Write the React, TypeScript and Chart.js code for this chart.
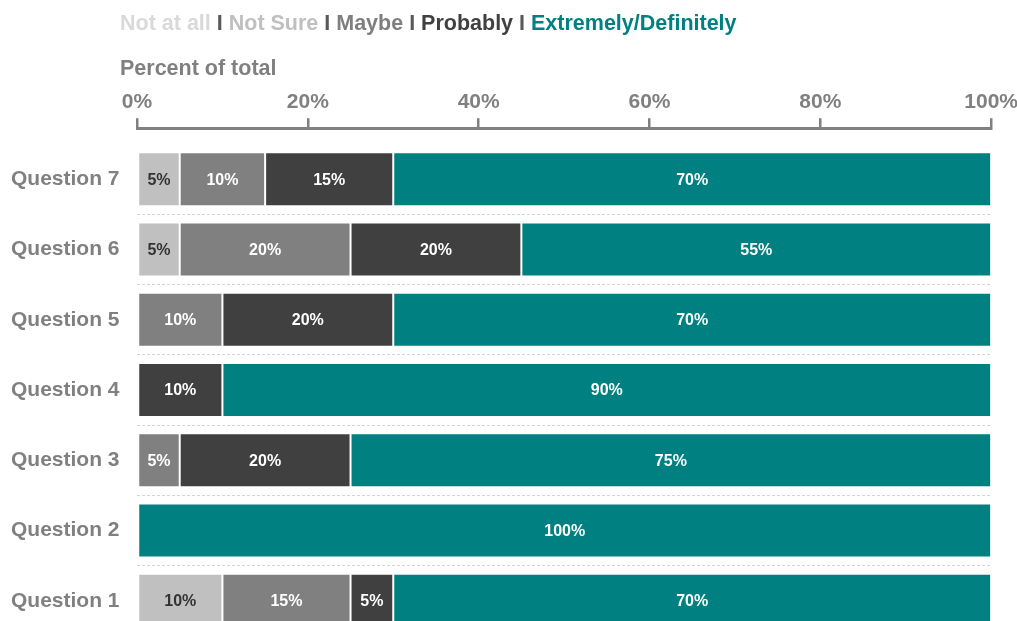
import React, { useEffect, useRef } from "react";
import { Chart, registerables } from "chart.js";

Chart.register(...registerables);

const categories = ["Question 7", "Question 6", "Question 5", "Question 4", "Question 3", "Question 2", "Question 1"];
const seriesNames = ["Not at all", "Not Sure", "Maybe", "Probably", "Extremely/Definitely"];
const notAtAll = [0, 0, 0, 0, 0, 0, 0];
const notSure = [5, 5, 0, 0, 0, 0, 10];
const maybe = [10, 20, 10, 0, 5, 0, 15];
const probably = [15, 20, 20, 10, 20, 0, 5];
const extremely = [70, 55, 70, 90, 75, 100, 70];
const xTicks = [0, 20, 40, 60, 80, 100];

const barColors = ["#d9d9d9", "#c0c0c0", "#808080", "#404040", "#008080"];
const legendColors = ["#d9d9d9", "#bfbfbf", "#7f7f7f", "#404040", "#008080"];
const labelColors = ["#333333", "#333333", "#ffffff", "#ffffff", "#ffffff"];
const FONT = "'Liberation Sans', Arial, sans-serif";

const barLabels = {
  id: "barLabels",
  afterDatasetsDraw(chart: any) {
    const ctx = chart.ctx;
    ctx.save();
    ctx.font = `bold 16px ${FONT}`;
    ctx.textAlign = "center";
    ctx.textBaseline = "middle";
    chart.data.datasets.forEach((ds: any, i: number) => {
      const meta = chart.getDatasetMeta(i);
      meta.data.forEach((el: any, j: number) => {
        const v = ds.data[j];
        if (!v) return;
        const p = el.getProps(["x", "base", "y"], true);
        ctx.fillStyle = labelColors[i];
        ctx.fillText(v + "%", (p.x + p.base) / 2, p.y + 1);
      });
    });
    ctx.restore();
  },
};

export default function App() {
  const ref = useRef<HTMLCanvasElement>(null);
  useEffect(() => {
    if (!ref.current) return;
    const series = [notAtAll, notSure, maybe, probably, extremely];
    const chart = new Chart(ref.current, {
      type: "bar",
      data: {
        labels: categories,
        datasets: series.map((d, i) => ({
          label: seriesNames[i],
          data: d,
          backgroundColor: barColors[i],
          borderColor: "#ffffff",
          borderWidth: 1,
          borderSkipped: false,
          xAxisID: "x",
          yAxisID: "y",
          categoryPercentage: 1,
          barPercentage: 0.77,
        })),
      },
      options: {
        indexAxis: "y",
        animation: false,
        responsive: false,
        layout: { padding: { top: 87, left: 0, right: 0, bottom: 5 } },
        plugins: {
          legend: { display: false },
          title: { display: false },
          tooltip: { enabled: false },
        },
        scales: {
          x: {
            type: "linear",
            position: "top",
            stacked: true,
            min: 0,
            max: 100,
            weight: 1,
            afterBuildTicks: (s: any) => {
              s.ticks = xTicks.map((v) => ({ value: v }));
            },
            ticks: {
              callback: (v: any) => v + "%",
              color: "#808080",
              font: { family: FONT, size: 21, weight: "bold" },
              padding: 3,
              maxRotation: 0,
            },
            grid: {
              display: true,
              drawOnChartArea: false,
              drawTicks: true,
              tickLength: 10,
              color: "#808080",
              lineWidth: 2.5,
            },
            border: { display: true, color: "#808080", width: 3 },
          },
          xgap: {
            type: "linear",
            axis: "x",
            position: "top",
            display: true,
            weight: 0,
            grid: { display: false },
            ticks: { display: false },
            border: { display: false },
            afterFit: (s: any) => {
              s.height = 16;
            },
          },
          y: {
            type: "category",
            stacked: true,
            afterFit: (s: any) => {
              s.width = 137;
            },
            ticks: {
              color: "#808080",
              font: { family: FONT, size: 21, weight: "bold" },
              padding: 17.5,
            },
            grid: {
              display: true,
              drawTicks: false,
              offset: true,
              lineWidth: 1,
              color: (c: any) => (c.index === 0 ? "rgba(0,0,0,0)" : "#d4d4d4"),
            },
            border: { display: false, dash: [3, 2] },
          },
        } as any,
      },
      plugins: [barLabels],
    } as any);
    return () => chart.destroy();
  }, []);

  const legendItems: React.ReactNode[] = [];
  seriesNames.forEach((n, i) => {
    if (i > 0)
      legendItems.push(
        <span key={"s" + i} style={{ color: "#595959" }}>
          {" I "}
        </span>
      );
    legendItems.push(
      <span key={"n" + i} style={{ color: legendColors[i] }}>
        {n}
      </span>
    );
  });

  return (
    <div
      style={{
        position: "fixed",
        left: 0,
        top: 0,
        width: 1017,
        height: 621,
        overflow: "hidden",
        background: "#ffffff",
      }}
    >
      <canvas ref={ref} width={1021} height={666} style={{ display: "block", position: "absolute", left: 0, top: 0 }} />
      <div
        style={{
          position: "absolute",
          left: 120,
          top: 13,
          fontFamily: FONT,
          fontWeight: "bold",
          fontSize: 21.5,
          lineHeight: "21px",
          whiteSpace: "pre",
        }}
      >
        {legendItems}
      </div>
      <div
        style={{
          position: "absolute",
          left: 120,
          top: 58,
          fontFamily: FONT,
          fontWeight: "bold",
          fontSize: 21.5,
          lineHeight: "21px",
          color: "#808080",
        }}
      >
        Percent of total
      </div>
    </div>
  );
}
